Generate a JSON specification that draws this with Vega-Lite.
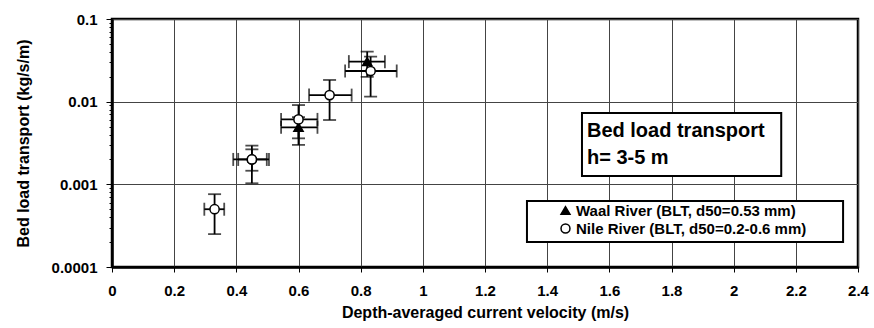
{
  "$schema": "https://vega.github.io/schema/vega-lite/v6.json",
  "width": 746,
  "height": 248,
  "autosize": "none",
  "padding": {"left": 112, "top": 19, "right": 16, "bottom": 61},
  "background": "white",
  "config": {
    "font": "Liberation Sans",
    "view": {"stroke": "black", "strokeWidth": 2.5},
    "axis": {
      "labelFont": "Liberation Sans",
      "labelFontWeight": "bold",
      "labelFontSize": 15,
      "labelColor": "black",
      "titleFont": "Liberation Sans",
      "titleFontWeight": "bold",
      "titleFontSize": 16,
      "titleColor": "black",
      "domainColor": "black",
      "domainWidth": 2.5,
      "tickColor": "black",
      "tickWidth": 1,
      "gridColor": "#444",
      "gridWidth": 1
    },
    "legend": {
      "labelFont": "Liberation Sans",
      "labelFontWeight": "bold",
      "labelFontSize": 15,
      "labelColor": "black",
      "labelLimit": 500
    }
  },
  "datasets": {
    "pts": [
      {"series": "Waal River (BLT, d50=0.53 mm)", "v": 0.6, "q": 0.0049, "vlo": 0.544, "vhi": 0.661, "qlo": 0.003, "qhi": 0.0065},
      {"series": "Waal River (BLT, d50=0.53 mm)", "v": 0.821, "q": 0.0305, "vlo": 0.762, "vhi": 0.878, "qlo": 0.02, "qhi": 0.0403},
      {"series": "Nile River (BLT, d50=0.2-0.6 mm)", "v": 0.33, "q": 0.0005, "vlo": 0.297, "vhi": 0.361, "qlo": 0.00025, "qhi": 0.00076},
      {"series": "Nile River (BLT, d50=0.2-0.6 mm)", "v": 0.45, "q": 0.002, "vlo": 0.39, "vhi": 0.505, "qlo": 0.00103, "qhi": 0.00294},
      {"series": "Nile River (BLT, d50=0.2-0.6 mm)", "v": 0.45, "q": 0.002, "vlo": 0.406, "vhi": 0.498, "qlo": 0.00146, "qhi": 0.00265},
      {"series": "Nile River (BLT, d50=0.2-0.6 mm)", "v": 0.6, "q": 0.0061, "vlo": 0.544, "vhi": 0.661, "qlo": 0.0036, "qhi": 0.0091},
      {"series": "Nile River (BLT, d50=0.2-0.6 mm)", "v": 0.7, "q": 0.012, "vlo": 0.634, "vhi": 0.771, "qlo": 0.006, "qhi": 0.0183},
      {"series": "Nile River (BLT, d50=0.2-0.6 mm)", "v": 0.832, "q": 0.0235, "vlo": 0.75, "vhi": 0.916, "qlo": 0.0115, "qhi": 0.035}
    ],
    "boxes": [
      {"box": "title", "v": 1.512, "v2": 2.153, "q": 0.00126, "q2": 0.00729},
      {"box": "legend", "v": 1.335, "v2": 2.352, "q": 0.000201, "q2": 0.000629}
    ],
    "labels": [
      {"label": "Bed load transport", "v": 1.528, "q": 0.00442},
      {"label": "h= 3-5 m", "v": 1.528, "q": 0.00209}
    ]
  },
  "layer": [
    {
      "data": {"name": "pts"},
      "mark": {"type": "rule", "color": "black", "strokeWidth": 1.8},
      "encoding": {
        "x": {
          "field": "v", "type": "quantitative",
          "title": "Depth-averaged current velocity (m/s)",
          "scale": {"domain": [0, 2.4], "nice": false, "zero": false},
          "axis": {
            "values": [0, 0.2, 0.4, 0.6, 0.8, 1, 1.2, 1.4, 1.6, 1.8, 2, 2.2, 2.4],
            "format": "~g",
            "grid": true,
            "tickSize": 5,
            "labelPadding": 11,
            "titlePadding": 6,
            "labelFlush": false
          }
        },
        "y": {
          "field": "qlo", "type": "quantitative",
          "title": "Bed load transport (kg/s/m)",
          "scale": {"type": "log", "domain": [0.0001, 0.1], "nice": false},
          "axis": {
            "values": [0.0001, 0.0002, 0.0003, 0.0004, 0.0005, 0.0006, 0.0007, 0.0008, 0.0009, 0.001, 0.002, 0.003, 0.004, 0.005, 0.006, 0.007, 0.008, 0.009, 0.01, 0.02, 0.03, 0.04, 0.05, 0.06, 0.07, 0.08, 0.09, 0.1],
            "labelExpr": "abs(log(datum.value)/LN10 - round(log(datum.value)/LN10)) < 0.001 ? format(datum.value, '~g') : ''",
            "grid": true,
            "gridOpacity": {"condition": {"test": "abs(log(datum.value)/LN10 - round(log(datum.value)/LN10)) < 0.001", "value": 1}, "value": 0},
            "tickSize": {"condition": {"test": "abs(log(datum.value)/LN10 - round(log(datum.value)/LN10)) < 0.001", "value": 6}, "value": 3},
            "labelPadding": 9,
            "labelFlush": false,
            "titlePadding": 20
          }
        },
        "y2": {"field": "qhi"}
      }
    },
    {
      "data": {"name": "boxes"},
      "mark": {"type": "rect", "fill": "white", "stroke": "black", "strokeWidth": 2},
      "encoding": {
        "x": {"field": "v", "type": "quantitative", "title": "Depth-averaged current velocity (m/s)", "scale": {"domain": [0, 2.4], "nice": false, "zero": false}},
        "x2": {"field": "v2"},
        "y": {"field": "q", "type": "quantitative", "title": "Bed load transport (kg/s/m)", "scale": {"type": "log", "domain": [0.0001, 0.1], "nice": false}},
        "y2": {"field": "q2"}
      }
    },
    {
      "data": {"name": "labels"},
      "mark": {"type": "text", "align": "left", "baseline": "middle", "fontSize": 20, "fontWeight": "bold", "font": "Liberation Sans", "color": "black"},
      "encoding": {
        "x": {"field": "v", "type": "quantitative", "title": "Depth-averaged current velocity (m/s)", "scale": {"domain": [0, 2.4], "nice": false, "zero": false}},
        "y": {"field": "q", "type": "quantitative", "title": "Bed load transport (kg/s/m)", "scale": {"type": "log", "domain": [0.0001, 0.1], "nice": false}},
        "text": {"field": "label"}
      }
    },
    {
      "data": {"name": "pts"},
      "mark": {"type": "rule", "color": "black", "strokeWidth": 1.8},
      "encoding": {
        "x": {"field": "vlo", "type": "quantitative", "title": "Depth-averaged current velocity (m/s)", "scale": {"domain": [0, 2.4], "nice": false, "zero": false}},
        "x2": {"field": "vhi"},
        "y": {"field": "q", "type": "quantitative", "title": "Bed load transport (kg/s/m)", "scale": {"type": "log", "domain": [0.0001, 0.1], "nice": false}}
      }
    },
    {
      "data": {"name": "pts"},
      "mark": {"type": "tick", "orient": "horizontal", "color": "black", "size": 13, "thickness": 1.8},
      "encoding": {
        "x": {"field": "v", "type": "quantitative", "title": "Depth-averaged current velocity (m/s)", "scale": {"domain": [0, 2.4], "nice": false, "zero": false}},
        "y": {"field": "qlo", "type": "quantitative", "title": "Bed load transport (kg/s/m)", "scale": {"type": "log", "domain": [0.0001, 0.1], "nice": false}}
      }
    },
    {
      "data": {"name": "pts"},
      "mark": {"type": "tick", "orient": "horizontal", "color": "black", "size": 13, "thickness": 1.8},
      "encoding": {
        "x": {"field": "v", "type": "quantitative", "title": "Depth-averaged current velocity (m/s)", "scale": {"domain": [0, 2.4], "nice": false, "zero": false}},
        "y": {"field": "qhi", "type": "quantitative", "title": "Bed load transport (kg/s/m)", "scale": {"type": "log", "domain": [0.0001, 0.1], "nice": false}}
      }
    },
    {
      "data": {"name": "pts"},
      "mark": {"type": "tick", "orient": "vertical", "color": "black", "size": 13, "thickness": 1.8},
      "encoding": {
        "x": {"field": "vlo", "type": "quantitative", "title": "Depth-averaged current velocity (m/s)", "scale": {"domain": [0, 2.4], "nice": false, "zero": false}},
        "y": {"field": "q", "type": "quantitative", "title": "Bed load transport (kg/s/m)", "scale": {"type": "log", "domain": [0.0001, 0.1], "nice": false}}
      }
    },
    {
      "data": {"name": "pts"},
      "mark": {"type": "tick", "orient": "vertical", "color": "black", "size": 13, "thickness": 1.8},
      "encoding": {
        "x": {"field": "vhi", "type": "quantitative", "title": "Depth-averaged current velocity (m/s)", "scale": {"domain": [0, 2.4], "nice": false, "zero": false}},
        "y": {"field": "q", "type": "quantitative", "title": "Bed load transport (kg/s/m)", "scale": {"type": "log", "domain": [0.0001, 0.1], "nice": false}}
      }
    },
    {
      "data": {"name": "pts"},
      "mark": {"type": "point", "filled": true, "strokeWidth": 1.5, "size": 85, "opacity": 1},
      "encoding": {
        "x": {"field": "v", "type": "quantitative", "title": "Depth-averaged current velocity (m/s)", "scale": {"domain": [0, 2.4], "nice": false, "zero": false}},
        "y": {"field": "q", "type": "quantitative", "title": "Bed load transport (kg/s/m)", "scale": {"type": "log", "domain": [0.0001, 0.1], "nice": false}},
        "shape": {
          "field": "series", "type": "nominal",
          "scale": {"domain": ["Waal River (BLT, d50=0.53 mm)", "Nile River (BLT, d50=0.2-0.6 mm)"], "range": ["triangle-up", "circle"]},
          "legend": {
            "title": null,
            "orient": "none",
            "legendX": 446,
            "legendY": 184,
            "padding": 0,
            "rowPadding": 2,
            "labelOffset": 3,
            "symbolSize": 80,
            "symbolStrokeWidth": 1.5
          }
        },
        "fill": {
          "field": "series", "type": "nominal",
          "scale": {"domain": ["Waal River (BLT, d50=0.53 mm)", "Nile River (BLT, d50=0.2-0.6 mm)"], "range": ["black", "white"]},
          "legend": {
            "title": null,
            "orient": "none",
            "legendX": 446,
            "legendY": 184,
            "padding": 0,
            "rowPadding": 2,
            "labelOffset": 3,
            "symbolSize": 80,
            "symbolStrokeWidth": 1.5
          }
        },
        "stroke": {
          "field": "series", "type": "nominal",
          "scale": {"domain": ["Waal River (BLT, d50=0.53 mm)", "Nile River (BLT, d50=0.2-0.6 mm)"], "range": ["black", "black"]},
          "legend": {
            "title": null,
            "orient": "none",
            "legendX": 446,
            "legendY": 184,
            "padding": 0,
            "rowPadding": 2,
            "labelOffset": 3,
            "symbolSize": 80,
            "symbolStrokeWidth": 1.5
          }
        }
      }
    }
  ]
}
